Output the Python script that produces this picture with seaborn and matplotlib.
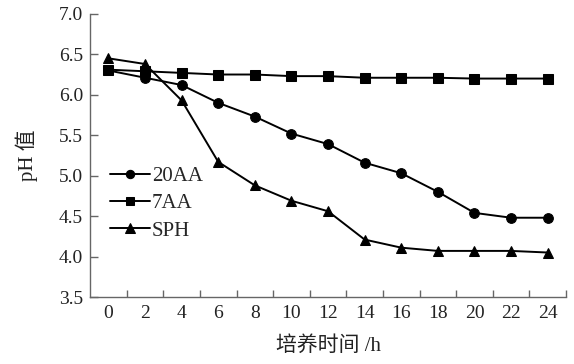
import matplotlib
matplotlib.use("Agg")
import matplotlib.pyplot as plt
import seaborn as sns
import pandas as pd

hours = [0, 2, 4, 6, 8, 10, 12, 14, 16, 18, 20, 22, 24]
ph_20aa = [6.30, 6.21, 6.12, 5.90, 5.73, 5.52, 5.39, 5.16, 5.03, 4.80, 4.54, 4.48, 4.48]
ph_7aa = [6.31, 6.29, 6.27, 6.25, 6.25, 6.23, 6.23, 6.21, 6.21, 6.21, 6.20, 6.20, 6.20]
ph_sph = [6.45, 6.38, 5.93, 5.17, 4.88, 4.69, 4.56, 4.21, 4.11, 4.07, 4.07, 4.07, 4.05]
groups = ["20AA", "7AA", "SPH"]

df = pd.concat([
    pd.DataFrame({"hour": hours, "ph": vals, "group": g})
    for g, vals in zip(groups, [ph_20aa, ph_7aa, ph_sph])
])

sns.set_style("ticks")
plt.rcParams["font.family"] = ["Liberation Serif", "Noto Sans CJK SC"]

fig = plt.figure(figsize=(5.74, 3.64), dpi=100)
ax = fig.add_axes([0.157, 0.184, 0.829, 0.778])

markers = {"20AA": "o", "7AA": "s", "SPH": "^"}
sns.lineplot(data=df, x="hour", y="ph", hue="group", style="group",
             markers=markers, dashes=False, palette=["black"] * 3,
             markersize=7, linewidth=1.4, markeredgecolor="black", ax=ax)

# triangles look small at the same size
sizes = {"20AA": 7, "7AA": 7, "SPH": 8.5}
for line in ax.lines:
    lab = line.get_label()
    if lab in sizes:
        line.set_markersize(sizes[lab])

handles, labels = ax.get_legend_handles_labels()
leg_sizes = {"20AA": 6, "7AA": 6, "SPH": 7}
for h, lab in zip(handles, labels):
    if lab in leg_sizes:
        h.set_markersize(leg_sizes[lab])
        h.set_color("black")
ax.legend(handles, labels, loc="center left", bbox_to_anchor=(0.042, 0.33),
          frameon=False, fontsize=15, handlelength=1.9, handletextpad=0.1,
          labelspacing=0.37, borderaxespad=0, borderpad=0)

ax.set_xlim(-1, 25)
ax.set_ylim(3.5, 7.0)
ax.set_xticks(hours)
ax.set_xticks(list(range(1, 26, 2)), minor=True)
yt = [3.5, 4.0, 4.5, 5.0, 5.5, 6.0, 6.5, 7.0]
ax.set_yticks(yt)
ax.set_yticklabels([f"{v:.1f}" for v in yt])
ax.tick_params(axis="x", which="major", length=0, pad=6, labelsize=14, labelcolor="#222")
ax.tick_params(axis="x", which="minor", direction="in", length=5, color="#666", width=1)
ax.tick_params(axis="y", direction="in", length=6, color="#666", width=1,
               labelsize=14, labelcolor="#222", pad=5)

sns.despine(ax=ax)
for s in ["left", "bottom"]:
    ax.spines[s].set_color("#666")
    ax.spines[s].set_linewidth(1.0)

ax.set_xlabel("培养时间 /h", fontsize=15, color="#222", labelpad=10)
ax.set_ylabel("pH 值", fontsize=15, color="#222", labelpad=15)

fig.savefig("out.png", dpi=100)
